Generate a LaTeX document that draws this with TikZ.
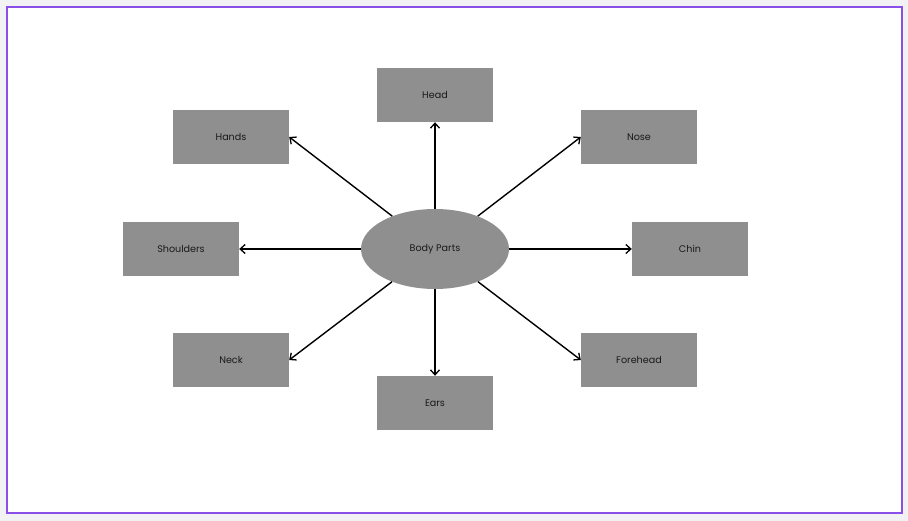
\documentclass[tikz,border=0pt]{standalone}
\usepackage{fontspec}
\setmainfont{Poppins}
\usetikzlibrary{shapes.geometric, arrows.meta}
\definecolor{boxgray}{HTML}{8F8F8F}
\definecolor{framepurple}{HTML}{8A4FE8}
\definecolor{pagegray}{HTML}{F2F2F5}
\definecolor{labelink}{HTML}{1A1A1A}
\begin{document}
\begin{tikzpicture}[
                x=1pt, y=-1pt,
                part/.style={rectangle, fill=boxgray, minimum width=116pt, minimum height=54pt,
                    inner sep=0pt, font=\fontsize{9.6}{11}\selectfont, text=labelink},
                hub/.style={ellipse, fill=boxgray, minimum width=148pt, minimum height=80pt,
                    inner sep=0pt, font=\fontsize{9.6}{11}\selectfont, text=labelink},
                spoke/.style={-{Straight Barb[length=5pt, width=9pt, line width=1.3pt]}, line width=1.4pt, black}
                ]
                % page and frame
                \fill[pagegray] (0,0) rectangle (908,521);
                \useasboundingbox (0,0) rectangle (908,521);
                \draw[framepurple, line width=2pt, fill=white] (7,7) rectangle (902,513);
                % centre
                \node[hub] (body) at (435,249) {Body Parts};
                % parts
                \node[part] (head) at (435,95) {Head};
                \node[part] (hands) at (231,137) {Hands};
                \node[part] (nose) at (639,137) {Nose};
                \node[part] (shoulders) at (181,249) {Shoulders};
                \node[part] (chin) at (690,249) {Chin};
                \node[part] (neck) at (231,360) {Neck};
                \node[part] (forehead) at (639,360) {Forehead};
                \node[part] (ears) at (435,403) {Ears};
                % arrows
                \draw[spoke] (body) -- (head.south);
                \draw[spoke] (body) -- (hands.east);
                \draw[spoke] (body) -- (nose.west);
                \draw[spoke] (body) -- (shoulders.east);
                \draw[spoke] (body) -- (chin.west);
                \draw[spoke] (body) -- (neck.east);
                \draw[spoke] (body) -- (forehead.west);
                \draw[spoke] (body) -- (ears.north);
            \end{tikzpicture}
\end{document}
